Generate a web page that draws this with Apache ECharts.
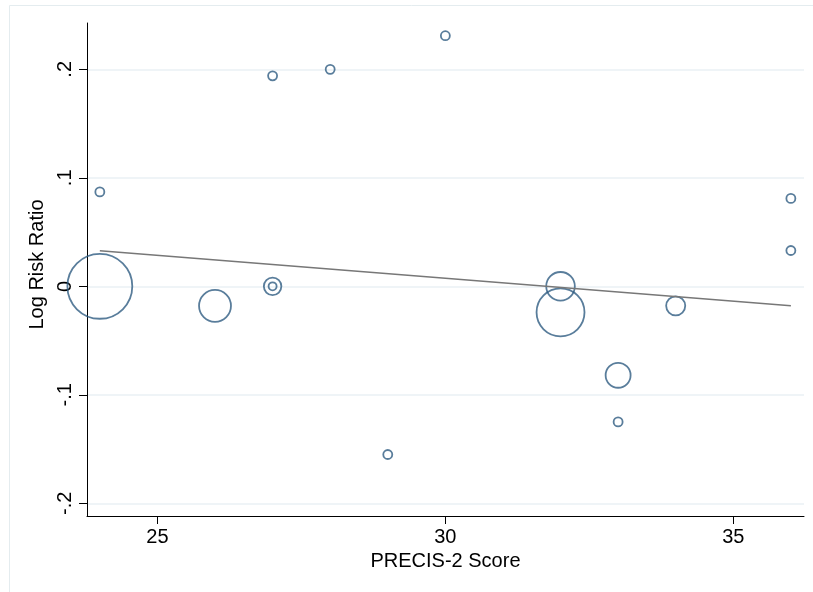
<!DOCTYPE html>
<html>
<head>
<meta charset="utf-8">
<script src="https://cdn.jsdelivr.net/npm/echarts@6/dist/echarts.min.js"></script>
<style>
html,body{margin:0;padding:0;background:#fff;}
#chart{width:813px;height:592px;}
</style>
</head>
<body>
<div id="chart"></div>
<script>
// PRECIS-2 score for each trial
var precisScore = [24, 24, 26, 27, 27, 27, 28, 29, 30, 32, 32, 33, 33, 34, 36, 36];
// Log risk ratio per trial
var logRiskRatio = [0.087, 0.000, -0.018, 0.000, 0.000, 0.194, 0.200, -0.155, 0.231, 0.000, -0.024, -0.082, -0.125, -0.018, 0.081, 0.033];
// Relative study weight (bubble area)
var studyWeight = [1, 52, 12.6, 3.8, 0.8, 1, 1, 1, 1, 10.1, 28.4, 7.7, 1, 4.5, 1, 1];
// Fitted regression line end points
var fitX = [24, 36];
var fitY = [0.0328, -0.0179];
// Axis ticks
var xTickValues = [25, 30, 35];
var yTickValues = [-0.2, -0.1, 0, 0.1, 0.2];
var yTickLabels = ['-.2', '-.1', '0', '.1', '.2'];

var FONT = "'Liberation Sans', Arial, Helvetica, sans-serif";
var bubbles = precisScore.map(function (x, i) { return [x, logRiskRatio[i], studyWeight[i]]; });
var fitLine = fitX.map(function (x, i) { return [x, fitY[i]]; });

var chart = echarts.init(document.getElementById('chart'), null, {renderer: 'canvas'});
chart.setOption({
  backgroundColor: '#ffffff',
  animation: false,
  graphic: [{
    type: 'rect', left: 7, top: 3, silent: true,
    shape: {width: 900, height: 700},
    style: {fill: 'none', stroke: '#e4ecef', lineWidth: 1}
  }],
  grid: {left: 87, top: 23, right: 9, bottom: 76, containLabel: false},
  xAxis: {
    type: 'value', min: 23.777, max: 36.228,
    name: 'PRECIS-2 Score', nameLocation: 'middle', nameGap: 33,
    nameTextStyle: {fontFamily: FONT, fontSize: 20, color: '#000'},
    axisLine: {show: true, onZero: false, lineStyle: {color: '#000', width: 1}},
    axisTick: {show: true, length: 8, customValues: xTickValues, lineStyle: {color: '#000', width: 1}},
    axisLabel: {customValues: xTickValues, margin: 11, fontFamily: FONT, fontSize: 20, color: '#000',
      formatter: function (v) { return String(v); }},
    splitLine: {show: false}
  },
  yAxis: {
    type: 'value', min: -0.2117, max: 0.2427,
    name: 'Log Risk Ratio', nameLocation: 'middle', nameGap: 30, nameRotate: 90,
    nameTextStyle: {fontFamily: FONT, fontSize: 20, color: '#000', padding: [0, 0, 0, 10]},
    axisLine: {show: true, onZero: false, lineStyle: {color: '#000', width: 1}},
    axisTick: {show: true, length: 8, customValues: yTickValues, lineStyle: {color: '#000', width: 1}},
    axisLabel: {customValues: yTickValues, rotate: 90, margin: 12, fontFamily: FONT, fontSize: 20, color: '#000',
      formatter: function (v) {
        for (var i = 0; i < yTickValues.length; i++) {
          if (Math.abs(yTickValues[i] - v) < 1e-9) return yTickLabels[i];
        }
        return '';
      }},
    splitLine: {show: true, lineStyle: {color: '#eaf1f4', width: 1.5}}
  },
  series: [{
    type: 'scatter',
    data: bubbles,
    symbol: 'circle',
    symbolSize: function (d) { return 9 * Math.sqrt(d[2]); },
    itemStyle: {color: 'rgba(0,0,0,0)', borderColor: '#2f5d82', borderWidth: 1.8},
    z: 2
  }, {
    type: 'line',
    data: fitLine,
    symbol: 'none',
    lineStyle: {color: '#777777', width: 1.5},
    z: 3
  }]
});
</script>
</body>
</html>
